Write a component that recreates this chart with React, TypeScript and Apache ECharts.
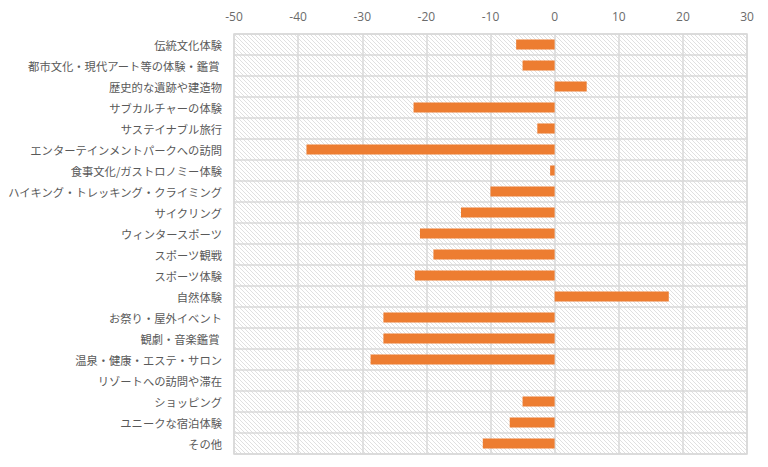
import React, { useEffect, useRef } from "react";
import * as echarts from "echarts";

const categories = [
  "伝統文化体験",
  "都市文化・現代アート等の体験・鑑賞 ",
  "歴史的な遺跡や建造物",
  "サブカルチャーの体験",
  "サステイナブル旅行",
  "エンターテインメントパークへの訪問",
  "食事文化/ガストロノミー体験",
  "ハイキング・トレッキング・クライミング",
  "サイクリング",
  "ウィンタースポーツ",
  "スポーツ観戦",
  "スポーツ体験",
  "自然体験",
  "お祭り・屋外イベント",
  "観劇・音楽鑑賞 ",
  "温泉・健康・エステ・サロン",
  "リゾートへの訪問や滞在",
  "ショッピング",
  "ユニークな宿泊体験",
  "その他",
];

const values = [
  -6, -5, 5, -22, -2.7, -38.7, -0.7, -10, -14.6, -21, -18.9, -21.8, 17.8,
  -26.7, -26.7, -28.7, 0, -5, -7, -11.2,
];

const axisMin = -50;
const axisMax = 30;
const axisStep = 10;

function makeHatch(): HTMLCanvasElement {
  const s = 4;
  const c = document.createElement("canvas");
  c.width = s;
  c.height = s;
  const ctx = c.getContext("2d")!;
  ctx.fillStyle = "#ffffff";
  ctx.fillRect(0, 0, s, s);
  ctx.strokeStyle = "#e0e0e0";
  ctx.lineWidth = 1;
  for (let k = -1; k <= 1; k++) {
    ctx.beginPath();
    ctx.moveTo(k * s, 0);
    ctx.lineTo(k * s + s, s);
    ctx.stroke();
  }
  return c;
}

export default function App() {
  const ref = useRef<HTMLDivElement>(null);
  useEffect(() => {
    if (!ref.current) return;
    const chart = echarts.init(ref.current, undefined, { renderer: "svg" });
    const hatch = makeHatch();
    chart.setOption({
      animation: false,
      backgroundColor: "#ffffff",
      grid: {
        left: 234,
        right: 21,
        top: 34,
        bottom: 13,
        show: true,
        borderColor: "#d9d9d9",
        borderWidth: 1.5,
        backgroundColor: { image: hatch, repeat: "repeat" } as any,
        containLabel: false,
      },
      xAxis: {
        type: "value",
        position: "top",
        min: axisMin,
        max: axisMax,
        interval: axisStep,
        axisLine: { show: false },
        axisTick: { show: false },
        axisLabel: {
          color: "#6b6b6b",
          fontSize: 12,
          fontFamily: "Open Sans",
          margin: 12,
        },
        splitLine: { show: true, lineStyle: { color: "#d9d9d9", width: 1.5 } },
      },
      yAxis: {
        type: "category",
        inverse: true,
        data: categories,
        axisLine: { show: false },
        axisTick: { show: false },
        axisLabel: {
          color: "#595959",
          fontSize: 11.3,
          fontFamily: "Noto Sans CJK JP",
          margin: 12,
        },
        splitLine: { show: true, lineStyle: { color: "#d9d9d9", width: 1.5 } },
      },
      series: [
        {
          type: "bar",
          data: values,
          barWidth: "48%",
          itemStyle: { color: "#ED7D31" },
        },
      ],
    });
    return () => chart.dispose();
  }, []);
  return (
    <div
      ref={ref}
      style={{ position: "fixed", left: 0, top: 0, width: 768, height: 467 }}
    />
  );
}
